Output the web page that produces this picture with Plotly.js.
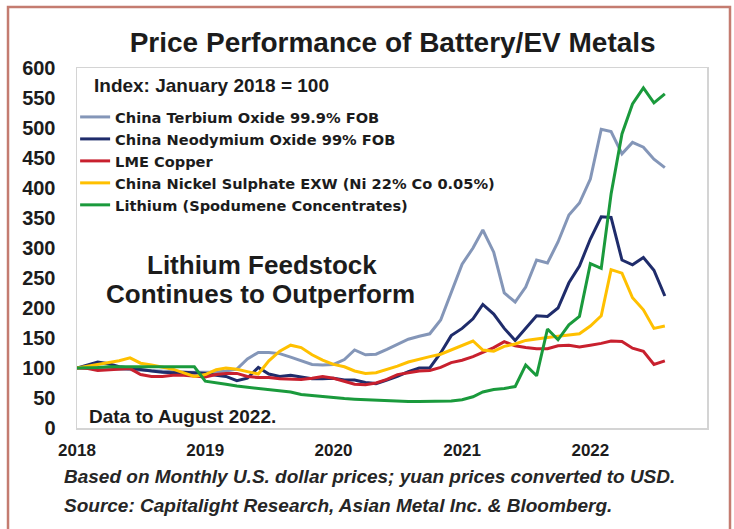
<!DOCTYPE html>
<html>
<head>
<meta charset="utf-8">
<script src="https://cdn.plot.ly/plotly-3.0.1.min.js"></script>
<style>
  html, body { margin: 0; padding: 0; background: #ffffff; }
  #chart { width: 734px; height: 529px; }
</style>
</head>
<body>
<div id="chart"></div>
<script>
// Monthly observations, January 2018 to August 2022
const months = [
  '2018-01','2018-02','2018-03','2018-04','2018-05','2018-06','2018-07','2018-08','2018-09','2018-10','2018-11','2018-12',
  '2019-01','2019-02','2019-03','2019-04','2019-05','2019-06','2019-07','2019-08','2019-09','2019-10','2019-11','2019-12',
  '2020-01','2020-02','2020-03','2020-04','2020-05','2020-06','2020-07','2020-08','2020-09','2020-10','2020-11','2020-12',
  '2021-01','2021-02','2021-03','2021-04','2021-05','2021-06','2021-07','2021-08','2021-09','2021-10','2021-11','2021-12',
  '2022-01','2022-02','2022-03','2022-04','2022-05','2022-06','2022-07','2022-08'
];

const terbium = [
  100,101,101,99,98,97,96,95,94,93,93,93,
  93,93,95,98,115,126,126,124,118,112,106,105,
  106,114,130,122,123,131,140,148,153,157,180,225,
  273,300,330,293,225,210,235,280,275,310,355,375,
  415,498,494,457,476,468,448,434
];

const neodymium = [
  100,105,110,107,102,100,97,95,93,92,93,92,
  91,88,86,79,83,101,90,86,88,85,82,82,
  83,80,80,76,74,80,86,94,100,100,125,154,
  166,182,206,190,166,146,167,187,186,200,242,270,
  315,352,351,280,272,284,263,220
];

const copper = [
  100,99,96,97,97,99,89,86,86,88,88,86,
  85,89,91,91,86,84,84,82,82,81,83,86,
  83,78,73,72,75,81,89,92,95,96,101,109,
  113,119,126,134,144,137,134,132,132,137,138,135,
  138,141,145,144,133,128,106,112
];

const nickel = [
  100,103,106,108,112,117,108,105,101,98,92,86,
  89,97,100,98,94,90,112,128,138,134,122,113,
  106,102,95,91,92,97,103,110,115,119,123,130,
  137,145,130,128,136,140,146,149,151,153,155,157,
  170,187,264,258,217,197,166,170
];

const lithium = [
  100,100,101,102,102,103,103,103,103,103,102,102,
  78,76,73,70,68,66,64,63,60,56,54,52,
  50,49,48,47,46,45,45,44,44,44,44,45,
  47,52,60,64,66,69,105,87,165,147,172,186,
  274,266,390,490,540,567,542,557
];

const seriesNames = [
  'China Terbium Oxide 99.9% FOB',
  'China Neodymium Oxide 99% FOB',
  'LME Copper',
  'China Nickel Sulphate EXW (Ni 22% Co 0.05%)',
  'Lithium (Spodumene Concentrates)'
];
const seriesValues = [terbium, neodymium, copper, nickel, lithium];
const seriesColors = ['#8496b8', '#1f2c6b', '#c8202e', '#ffc000', '#1a9a3c'];

const yTickVals = [0,50,100,150,200,250,300,350,400,450,500,550,600];
const xTickVals = ['2018-01-01','2019-01-01','2020-01-01','2021-01-01','2022-01-01'];
const xTickText = ['2018','2019','2020','2021','2022'];

const FONT = 'Liberation Sans, Arial, Helvetica, sans-serif';
const LEGFONT = 'DejaVu Sans, Liberation Sans, Arial, sans-serif';
const TXT = '#1c1c1c';

const traces = seriesNames.map((name, i) => ({
  type: 'scatter',
  mode: 'lines',
  name: '<b>' + name + '</b>',
  x: months,
  y: seriesValues[i],
  line: { color: seriesColors[i], width: 3 },
  hoverinfo: 'skip'
}));

const layout = {
  width: 734,
  height: 529,
  margin: { l: 77, r: 27, t: 68, b: 101 },
  paper_bgcolor: '#ffffff',
  plot_bgcolor: '#ffffff',
  font: { family: FONT, color: TXT },
  title: {
    text: '<b>Price Performance of Battery/EV Metals</b>',
    font: { family: FONT, size: 28, color: TXT },
    x: 0.535, xanchor: 'center',
    y: 0.92, yanchor: 'middle'
  },
  showlegend: true,
  legend: {
    x: -0.003, xanchor: 'left',
    y: 0.9085, yanchor: 'top',
    bgcolor: 'rgba(0,0,0,0)',
    borderwidth: 0,
    font: { family: LEGFONT, size: 14.6, color: TXT },
    itemwidth: 30,
    tracegroupgap: 0
  },
  xaxis: {
    type: 'date',
    range: ['2018-01-01', '2022-11-29'],
    tickvals: xTickVals,
    ticktext: xTickText,
    ticks: '',
    showgrid: false,
    zeroline: false,
    showline: true,
    mirror: true,
    linecolor: '#d4d4d4',
    linewidth: 1.5,
    tickfont: { family: FONT, size: 17, color: TXT, weight: 'bold' },
    ticklabelstandoff: 6,
    fixedrange: true
  },
  yaxis: {
    range: [0, 600],
    tickvals: yTickVals,
    ticks: '',
    showgrid: false,
    zeroline: false,
    showline: true,
    mirror: true,
    linecolor: '#d4d4d4',
    linewidth: 1.5,
    tickfont: { family: FONT, size: 20, color: TXT, weight: 'bold' },
    ticklabelstandoff: 16,
    fixedrange: true
  },
  annotations: [
    { text: '<b>Index: January 2018 = 100</b>', xref: 'paper', yref: 'paper', x: 0.024, y: 0.952,
      xanchor: 'left', yanchor: 'middle', showarrow: false, font: { family: FONT, size: 19, color: TXT } },
    { text: '<b>Lithium Feedstock</b>', xref: 'paper', yref: 'paper', x: 0.293, y: 0.453,
      xanchor: 'center', yanchor: 'middle', showarrow: false, font: { family: FONT, size: 26, color: TXT } },
    { text: '<b>Continues to Outperform</b>', xref: 'paper', yref: 'paper', x: 0.291, y: 0.371,
      xanchor: 'center', yanchor: 'middle', showarrow: false, font: { family: FONT, size: 26, color: TXT } },
    { text: '<b>Data to August 2022.</b>', xref: 'paper', yref: 'paper', x: 0.016, y: 0.033,
      xanchor: 'left', yanchor: 'middle', showarrow: false, font: { family: FONT, size: 19, color: TXT } },
    { text: '<b><i>Based on Monthly U.S. dollar prices; yuan prices converted to USD.</i></b>', xref: 'paper', yref: 'paper',
      x: -0.024, y: -0.136, xanchor: 'left', yanchor: 'middle', showarrow: false,
      font: { family: FONT, size: 19, color: '#262626' } },
    { text: '<b><i>Source: Capitalight Research, Asian Metal Inc. & Bloomberg.</i></b>', xref: 'paper', yref: 'paper',
      x: -0.024, y: -0.214, xanchor: 'left', yanchor: 'middle', showarrow: false,
      font: { family: FONT, size: 19, color: '#262626' } }
  ],
  shapes: [
    { type: 'rect', xref: 'paper', yref: 'paper', x0: -0.1095, x1: 1.0365, y0: -0.5, y1: 1.1694,
      line: { color: '#c47c70', width: 2.5 }, fillcolor: 'rgba(0,0,0,0)', layer: 'below' }
  ]
};

Plotly.newPlot('chart', traces, layout, { displayModeBar: false, staticPlot: true });
</script>
</body>
</html>
